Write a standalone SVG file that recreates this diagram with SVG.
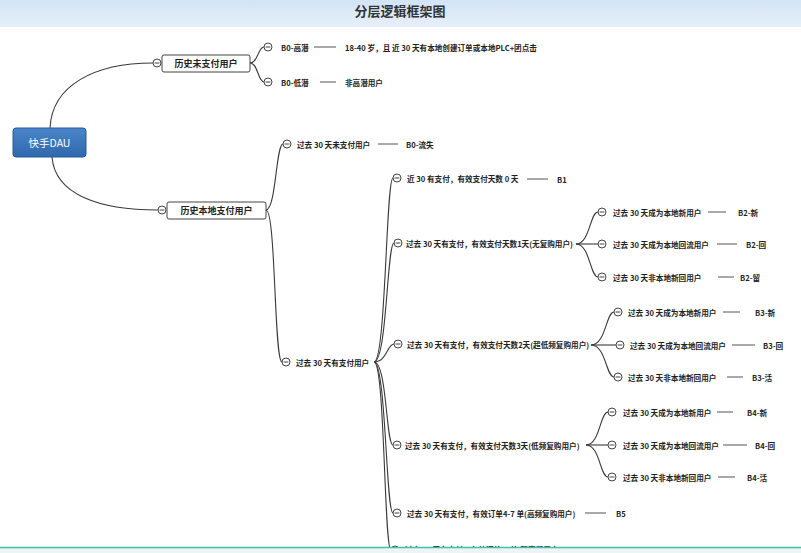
<svg xmlns="http://www.w3.org/2000/svg" width="801" height="553" viewBox="0 0 801 553">
<defs>
<linearGradient id="hdr" x1="0" y1="0" x2="0" y2="1">
<stop offset="0" stop-color="#d3e4f6"/>
<stop offset="1" stop-color="#e6eff9"/>
</linearGradient>
<linearGradient id="rootg" x1="0" y1="0" x2="0" y2="1">
<stop offset="0" stop-color="#4a85c9"/>
<stop offset="1" stop-color="#2f68ad"/>
</linearGradient>
<g id="col"><circle r="4" fill="#fff" stroke="#444" stroke-width="1"/><line x1="-2.4" y1="0" x2="2.4" y2="0" stroke="#444" stroke-width="1"/></g>
</defs>
<style>
text{font-family:"Noto Sans CJK SC","Liberation Sans",sans-serif;fill:#222;dominant-baseline:central}
.t{font-size:7.6px;font-weight:bold}
.b{font-size:9px;font-weight:bold}
.c{fill:none;stroke:#3a3a3a;stroke-width:1.1}
.d{fill:none;stroke:#555;stroke-width:1}
.box{fill:#fff;stroke:#444;stroke-width:1}
</style>
<rect width="801" height="553" fill="#fff"/>
<rect x="0" y="0" width="801" height="27" fill="url(#hdr)"/>
<text x="400" y="10" text-anchor="middle" style="font-size:13px;font-weight:bold;fill:#333">分层逻辑框架图</text>

<g id="connectors">
<path class="c" d="M50,128 C52,85 95,63 153,63"/>
<path class="c" d="M52,157 C55,195 100,210 158,210"/>
<path class="c" d="M250,63 C258,63 258,47 264,47"/>
<path class="c" d="M250,63 C258,63 258,82 264,82"/>
<path class="c" d="M266,210 C276,210 276,144 283,144"/>
<path class="c" d="M266,210 C276,210 274,362 282,362"/>
<path class="c" d="M374,362 C386,362 386,178 393,178"/>
<path class="c" d="M374,362 C387,362 387,243 394,243"/>
<path class="c" d="M374,362 C387,362 387,344 394,344"/>
<path class="c" d="M374,362 C387,362 386,445 393,445"/>
<path class="c" d="M374,362 C386,362 386,513 393,513"/>
<path class="c" d="M374,362 C385,362 384,550 391,550"/>
<path class="c" d="M576,244 C590,244 590,212 598,212"/>
<path class="c" d="M576,244 L598,244"/>
<path class="c" d="M576,244 C590,244 590,277 598,277"/>
<path class="c" d="M591,345 C606,345 606,312 614,312"/>
<path class="c" d="M591,345 L616,345"/>
<path class="c" d="M591,345 C606,345 606,377 614,377"/>
<path class="c" d="M586,445 C600,445 600,412 608,412"/>
<path class="c" d="M586,445 L608,445"/>
<path class="c" d="M586,445 C600,445 600,477 608,477"/>
<path class="d" d="M314,47 H336 M320,82 H336 M378,144 H398 M527,179 H548 M708,212 H726 M717,244 H737 M718,277 H734 M723,312 H740 M732,345 H755 M727,377 H743 M717,412 H733 M723,445 H747 M718,477 H735 M585,513 H606"/>
</g>

<g id="root">
<rect x="13" y="128" width="73" height="29" rx="3" fill="url(#rootg)" stroke="#2a5a98" stroke-width="1"/>
<text x="49.5" y="142.5" text-anchor="middle" style="font-size:10.5px;fill:#fff">快手DAU</text>
</g>

<g id="n-hist-unpaid">
<use href="#col" x="157" y="63"/>
<rect class="box" x="162" y="55" width="88" height="17" rx="2"/>
<text class="b" x="206" y="63.5" text-anchor="middle">历史未支付用户</text>
</g>
<g id="n-b0-high">
<use href="#col" x="268" y="47"/>
<text class="t" x="281" y="47">B0-高潜</text>
<text class="t" x="345" y="47">18-40 岁，且 近 30 天有本地创建订单或本地PLC+团点击</text>
</g>
<g id="n-b0-low">
<use href="#col" x="268" y="82"/>
<text class="t" x="281" y="82">B0-低潜</text>
<text class="t" x="345" y="82">非高潜用户</text>
</g>

<g id="n-hist-paid">
<use href="#col" x="162" y="210"/>
<rect class="box" x="167" y="202" width="99" height="17" rx="2"/>
<text class="b" x="216.5" y="210.5" text-anchor="middle">历史本地支付用户</text>
</g>
<g id="n-unpaid30">
<use href="#col" x="287" y="144"/>
<text class="t" x="297" y="144">过去 30 天未支付用户</text>
<text class="t" x="406" y="144">B0-流失</text>
</g>
<g id="n-paid30">
<use href="#col" x="286" y="362"/>
<text class="t" x="296" y="362">过去 30 天有支付用户</text>
</g>
<g id="n-b1">
<use href="#col" x="397" y="178"/>
<text class="t" x="407" y="178">近 30 有支付，有效支付天数 0 天</text>
<text class="t" x="557" y="179">B1</text>
</g>
<g id="n-d1">
<use href="#col" x="398" y="243"/>
<text class="t" x="406" y="243">过去 30 天有支付，有效支付天数1天(无复购用户)</text>
</g>
<g id="n-b2-new"><use href="#col" x="602" y="212"/><text class="t" x="613" y="212">过去 30 天成为本地新用户</text><text class="t" x="738" y="212">B2-新</text></g>
<g id="n-b2-back"><use href="#col" x="602" y="244"/><text class="t" x="613" y="244">过去 30 天成为本地回流用户</text><text class="t" x="746" y="244">B2-回</text></g>
<g id="n-b2-stay"><use href="#col" x="602" y="277"/><text class="t" x="613" y="277">过去 30 天非本地新回用户</text><text class="t" x="740" y="277">B2-留</text></g>

<g id="n-d2">
<use href="#col" x="398" y="344"/>
<text class="t" x="407" y="344">过去 30 天有支付，有效支付天数2天(超低频复购用户)</text>
</g>
<g id="n-b3-new"><use href="#col" x="618" y="312"/><text class="t" x="628" y="312">过去 30 天成为本地新用户</text><text class="t" x="755" y="312">B3-新</text></g>
<g id="n-b3-back"><use href="#col" x="620" y="345"/><text class="t" x="630" y="345">过去 30 天成为本地回流用户</text><text class="t" x="763" y="345">B3-回</text></g>
<g id="n-b3-stay"><use href="#col" x="618" y="377"/><text class="t" x="628" y="377">过去 30 天非本地新回用户</text><text class="t" x="752" y="377">B3-活</text></g>

<g id="n-d3">
<use href="#col" x="397" y="445"/>
<text class="t" x="405" y="445">过去 30 天有支付，有效支付天数3天(低频复购用户)</text>
</g>
<g id="n-b4-new"><use href="#col" x="612" y="412"/><text class="t" x="623" y="412">过去 30 天成为本地新用户</text><text class="t" x="747" y="412">B4-新</text></g>
<g id="n-b4-back"><use href="#col" x="612" y="445"/><text class="t" x="623" y="445">过去 30 天成为本地回流用户</text><text class="t" x="755" y="445">B4-回</text></g>
<g id="n-b4-stay"><use href="#col" x="612" y="477"/><text class="t" x="623" y="477">过去 30 天非本地新回用户</text><text class="t" x="747" y="477">B4-活</text></g>

<g id="n-b5">
<use href="#col" x="397" y="513"/>
<text class="t" x="407" y="513">过去 30 天有支付，有效订单4-7 单(高频复购用户)</text>
<text class="t" x="616" y="513">B5</text>
</g>
<g id="n-b6">
<use href="#col" x="395" y="550"/>
<text class="t" x="405" y="549">过去 30 天有支付，有效订单8+单(超高频用户)</text>
<text class="t" x="605" y="549">B6</text>
</g>

<rect x="0" y="547" width="801" height="6" fill="#eef3f5"/>
<line x1="0" y1="547.5" x2="801" y2="547.5" stroke="#3cc3ae" stroke-width="1.5"/>
</svg>
